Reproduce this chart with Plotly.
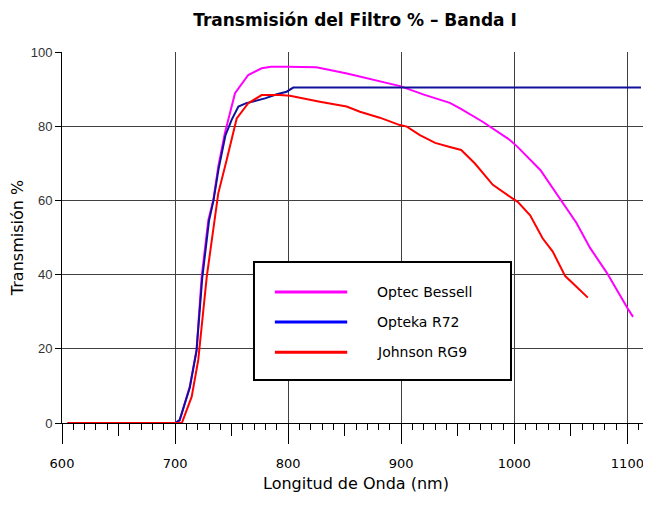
import plotly.graph_objects as go

# Optec Bessell
bessell_nm = [605, 700, 704, 713, 719, 723.5, 729.4, 733.8, 738.2, 744, 753, 764.7, 776.6, 785,
              799, 825, 852, 875, 899, 920, 943, 952, 972, 996, 1002, 1023, 1043,
              1055, 1067, 1082, 1100, 1105]
bessell_t = [0, 0, 0.6, 9.8, 19.7, 39.4, 54.7, 60.1, 69.1, 78.1, 88.9, 93.8, 95.6, 96,
             96, 95.9, 94.2, 92.5, 90.8, 88.5, 86.3, 84.8, 81.2, 76.3, 74.7, 68.2, 59.3,
             53.9, 47.2, 40.4, 31, 28.6]

# Opteka R72
opteka_nm = [605, 700, 704, 713, 719, 724, 730, 734, 738.5, 744.5, 750, 756, 763,
             779.5, 790, 798.7, 804.5, 1112]
opteka_t = [0, 0, 0.8, 9.5, 19.5, 39, 54.5, 60, 68.5, 77.5, 81.7, 85.3, 86.2,
            87.5, 88.6, 89.3, 90.4, 90.4]

# Johnson RG9
johnson_nm = [605, 706, 714.7, 720.5, 728, 734, 738.2, 745.6, 754.5, 764.7, 776.6, 792.7, 801.6,
              828, 851.7, 863.5, 881, 898.8, 905, 916.5, 930, 943, 953, 965, 981, 998, 1003,
              1014, 1025, 1034, 1045, 1055, 1065]
johnson_t = [0, 0, 7.1, 17, 39.4, 52.9, 61.9, 70.9, 82.1, 86.2, 88.4, 88.4, 88.2,
             86.6, 85.3, 83.9, 82.3, 80.3, 79.9, 77.6, 75.5, 74.4, 73.6, 70, 64.2, 60.6, 59.6,
             56, 49.8, 46.2, 39.6, 36.7, 33.8]

names = ["Optec Bessell", "Opteka R72", "Johnson RG9"]
colors = ["#ff00ff", "#10109a", "#ff0000"]
legend_colors = ["#ff00ff", "#0000ff", "#ff0000"]

series = [(bessell_nm, bessell_t), (opteka_nm, opteka_t), (johnson_nm, johnson_t)]

fig = go.Figure()
for (xs, ys), name, c in zip(series, names, colors):
    fig.add_trace(go.Scatter(x=xs, y=ys, mode="lines", name=name,
                             line=dict(color=c, width=2), cliponaxis=False))

comic = "DejaVu Sans"

# hand-drawn legend box
fig.add_shape(type="rect", xref="paper", yref="paper", x0=0.3265, x1=0.7636, y0=0.116, y1=0.434,
              line=dict(color="black", width=2), fillcolor="white", layer="above")
leg_y = [0.353, 0.272, 0.191]
for name, c, yy in zip(names, legend_colors, leg_y):
    fig.add_shape(type="line", xref="paper", yref="paper", x0=0.362, x1=0.485, y0=yy, y1=yy,
                  line=dict(color=c, width=3), layer="above")
    fig.add_annotation(text=name, xref="paper", yref="paper", x=0.532, y=yy, xanchor="left",
                       yanchor="middle", showarrow=False,
                       font=dict(family=comic, size=14, color="black"))

# page body has an 8px margin, so margins are shifted to compensate
fig.update_layout(
    width=651, height=506,
    margin=dict(l=54, r=9, t=44, b=91),
    paper_bgcolor="white", plot_bgcolor="white",
    showlegend=False,
    title=dict(text="<b>Transmisión del Filtro % – Banda I</b>", x=0.533, xanchor="center",
               y=0.976, yanchor="middle", yref="container", automargin=False,
               font=dict(family=comic, size=17, color="black")),
    xaxis=dict(range=[600, 1120], tickvals=[600, 700, 800, 900, 1000, 1100],
               ticks="outside", ticklen=20, tickcolor="black", tickwidth=1,
               ticklabelstandoff=8, automargin=False,
               showgrid=True, gridcolor="#404040", gridwidth=1,
               showline=True, linecolor="black", linewidth=1, zeroline=False,
               minor=dict(dtick=10, tick0=600, ticks="outside", ticklen=6, tickcolor="black",
                          showgrid=False),
               tickfont=dict(family=comic, size=13, color="black"),
               title=dict(text="Longitud de Onda (nm)", standoff=8,
                          font=dict(family=comic, size=16, color="black"))),
    xaxis2=dict(overlaying="x", matches="x", anchor="y", side="bottom", automargin=False,
                tickvals=[650, 750, 850, 950, 1050], ticks="outside", ticklen=12,
                tickcolor="black", showticklabels=False, showgrid=False, showline=False,
                zeroline=False),
    yaxis=dict(range=[0, 100], dtick=20, ticks="outside", ticklen=6, tickcolor="black",
               showgrid=True, gridcolor="#404040", gridwidth=1, automargin=False,
               showline=True, linecolor="black", linewidth=1, zeroline=False,
               tickfont=dict(family="Liberation Sans", size=13, color="#333333"),
               title=dict(text="Transmisión %", standoff=6,
                          font=dict(family=comic, size=16, color="black"))),
)
fig.add_trace(go.Scatter(x=[600], y=[0], xaxis="x2", mode="markers",
                         marker=dict(opacity=0), hoverinfo="skip", showlegend=False))

fig.write_html("out.html")
